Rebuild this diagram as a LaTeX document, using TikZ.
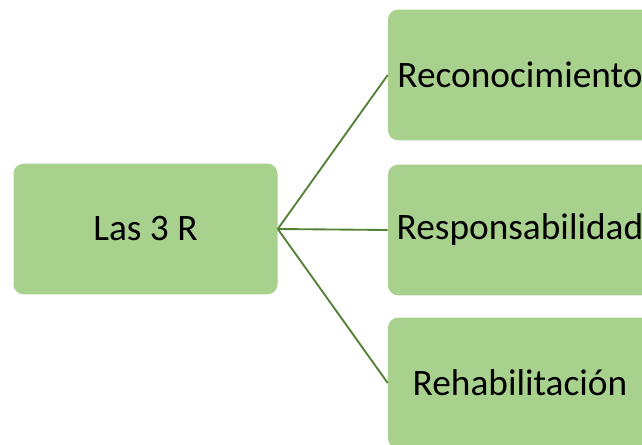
\documentclass[tikz,border=0pt]{standalone}
\usepackage{fontspec}
\setmainfont{Carlito}
\definecolor{boxgreen}{HTML}{A9D18E}
\definecolor{linegreen}{HTML}{548235}
\tikzset{
  rbox/.style={fill=boxgreen, rounded corners=7.5pt, minimum width=198pt, minimum height=98pt, inner sep=0pt, font=\fontsize{28}{33}\selectfont},
  link/.style={linegreen, line width=1.4pt}
}
\begin{document}
\begin{tikzpicture}[x=0.75pt, y=-0.75pt]
\useasboundingbox (0,0) rectangle (642,445);

\node[rbox] (las) at (145.5,229) {Las 3 R};
\node[rbox] (reco) at (520,75) {Reconocimiento};
\node[rbox] (resp) at (520,230) {Responsabilidad};
\node[rbox] (reha) at (520,383) {Rehabilitación};

\draw[link] (las.east) -- (reco.west);
\draw[link] (las.east) -- (resp.west);
\draw[link] (las.east) -- (reha.west);
\end{tikzpicture}
\end{document}
